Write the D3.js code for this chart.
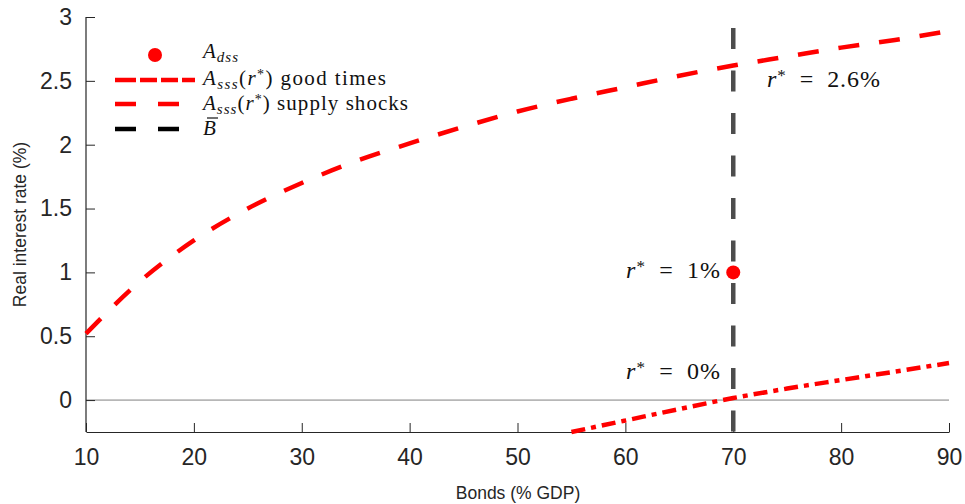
<!DOCTYPE html>
<html><head><meta charset="utf-8">
<script src="https://cdn.jsdelivr.net/npm/d3@7"></script>
<style>body{margin:0;background:#fff}svg{display:block}</style>
</head><body>
<svg id="c" width="965" height="504"></svg>
<script>
const xTicks = [10,20,30,40,50,60,70,80,90];
const yTicks = [0,0.5,1,1.5,2,2.5,3];
const supplyX = [10,15,20,25,30,35,40,45,50,55,60,65,70,75,80,85,90];
const supplyY = [0.52,0.93,1.25,1.50,1.70,1.87,2.01,2.14,2.26,2.36,2.45,2.54,2.62,2.69,2.76,2.82,2.89];
const goodX = [55,60,65,70,75,80,85,90];
const goodY = [-0.25,-0.16,-0.07,0.016,0.09,0.157,0.223,0.29];
const dssX = [70], dssY = [1];
const bBar = 70;
const legendLabels = ["dss","good times","supply shocks","B"];

const svg = d3.select("#c");
const x = d3.scaleLinear().domain([10,90]).range([86,949]);
const y = d3.scaleLinear().domain([-0.25,3]).range([432,17]);
const ink = "#262626";
const sans = "Helvetica, Arial, 'Liberation Sans', sans-serif";
const serif = "'Liberation Serif','Times New Roman',serif";

// zero line
svg.append("line").attr("x1",x(10)).attr("x2",x(90)).attr("y1",y(0)).attr("y2",y(0))
  .attr("stroke","#808080").attr("stroke-width",1);

// axes
const xa = svg.append("g").attr("transform",`translate(0,${y(-0.25)})`)
  .call(d3.axisBottom(x).tickValues(xTicks).tickSizeInner(-9).tickSizeOuter(0).tickPadding(16));
const ya = svg.append("g").attr("transform",`translate(${x(10)},0)`)
  .call(d3.axisLeft(y).tickValues(yTicks).tickFormat(d3.format("")).tickSizeInner(-9).tickSizeOuter(0).tickPadding(14));
[xa,ya].forEach(g=>{
  g.select(".domain").attr("stroke",ink).attr("stroke-width",1.2);
  g.selectAll(".tick line").attr("stroke",ink).attr("stroke-width",1);
  g.selectAll("text").attr("fill",ink).style("font-family",sans).style("font-size","23px");
});
xa.selectAll("text").attr("dy","0.72em");
ya.select(".domain").attr("d",`M0,${y(3)}V${y(-0.25)}`);

// axis labels
svg.append("text").attr("x",518).attr("y",499).attr("text-anchor","middle")
  .style("font-family",sans).style("font-size","17.5px").attr("fill",ink).text("Bonds (% GDP)");
svg.append("text").attr("transform",`translate(26,${y(1.375)}) rotate(-90)`).attr("text-anchor","middle")
  .style("font-family",sans).style("font-size","17.5px").attr("fill",ink).text("Real interest rate (%)");

const line = d3.line().x(d=>x(d[0])).y(d=>y(d[1])).curve(d3.curveMonotoneX);

// B bar vertical
svg.append("line").attr("x1",x(bBar)).attr("x2",x(bBar)).attr("y1",28).attr("y2",y(-0.25))
  .attr("stroke","#4d4d4d").attr("stroke-width",4.5).attr("stroke-dasharray","21,21.5");

// supply shocks
svg.append("path").datum(d3.zip(supplyX,supplyY)).attr("d",line).attr("fill","none")
  .attr("stroke","#ff0000").attr("stroke-width",4.5).attr("stroke-dasharray","21,20");
// good times
svg.append("path").datum(d3.zip(goodX,goodY)).attr("d",line).attr("fill","none")
  .attr("stroke","#ff0000").attr("stroke-width",4.5).attr("stroke-dasharray","14,6,5,6");
// dss
svg.selectAll("circle.dss").data(d3.zip(dssX,dssY)).join("circle").attr("class","dss")
  .attr("cx",d=>x(d[0])).attr("cy",d=>y(d[1])).attr("r",7).attr("fill","#ff0000");

// annotations
function rlabel(px,py,anchor,val,w){
  const t = svg.append("text").attr("x",px).attr("y",py).attr("text-anchor",anchor)
    .attr("textLength",w).attr("lengthAdjust","spacing")
    .style("font-family",serif).style("font-size","24px").attr("fill","#111");
  t.append("tspan").style("font-style","italic").text("r");
  t.append("tspan").attr("baseline-shift","38%").style("font-size","17px").text("*");
  t.append("tspan").text("\u2002=\u2002"+val);
}
rlabel(720,278,"end","1%",94);
rlabel(720,379,"end","0%",94);
rlabel(767,87,"start","2.6%",113);

// legend
const lg = svg.append("g");
const ly = [55,80,104,129];
const lb = [58,85,110,135];
lg.append("circle").attr("cx",155).attr("cy",ly[0]).attr("r",7).attr("fill","#ff0000");
lg.append("line").attr("x1",115).attr("x2",195).attr("y1",ly[1]).attr("y2",ly[1])
  .attr("stroke","#ff0000").attr("stroke-width",4.5).attr("stroke-dasharray","21,4,17,4,17,4");
lg.append("line").attr("x1",115).attr("x2",180).attr("y1",ly[2]).attr("y2",ly[2])
  .attr("stroke","#ff0000").attr("stroke-width",4.5).attr("stroke-dasharray","21,22");
lg.append("line").attr("x1",115).attr("x2",180).attr("y1",ly[3]).attr("y2",ly[3])
  .attr("stroke","#000").attr("stroke-width",4.5).attr("stroke-dasharray","21,22");
function leg(i, sub, rest, w){
  const t = lg.append("text").attr("x",203).attr("y",lb[i])
    .attr("textLength",w).attr("lengthAdjust","spacing")
    .style("font-family",serif).style("font-size","21px").attr("fill","#111");
  t.append("tspan").style("font-style","italic").text("A");
  t.append("tspan").attr("baseline-shift","-25%").style("font-style","italic").style("font-size","15px").text(sub);
  if(rest){
    t.append("tspan").text("(");
    t.append("tspan").style("font-style","italic").text("r");
    t.append("tspan").attr("baseline-shift","40%").style("font-size","14px").text("*");
    t.append("tspan").text(") "+rest);
  }
}
leg(0,legendLabels[0],null,35);
leg(1,"sss",legendLabels[1],183);
leg(2,"sss",legendLabels[2],205);
lg.append("text").attr("x",203).attr("y",lb[3]).style("font-family",serif)
  .style("font-size","21px").style("font-style","italic").attr("fill","#111").text(legendLabels[3]);
lg.append("line").attr("x1",207).attr("x2",218).attr("y1",lb[3]-17).attr("y2",lb[3]-17)
  .attr("stroke","#111").attr("stroke-width",1.2);
</script>
</body></html>
